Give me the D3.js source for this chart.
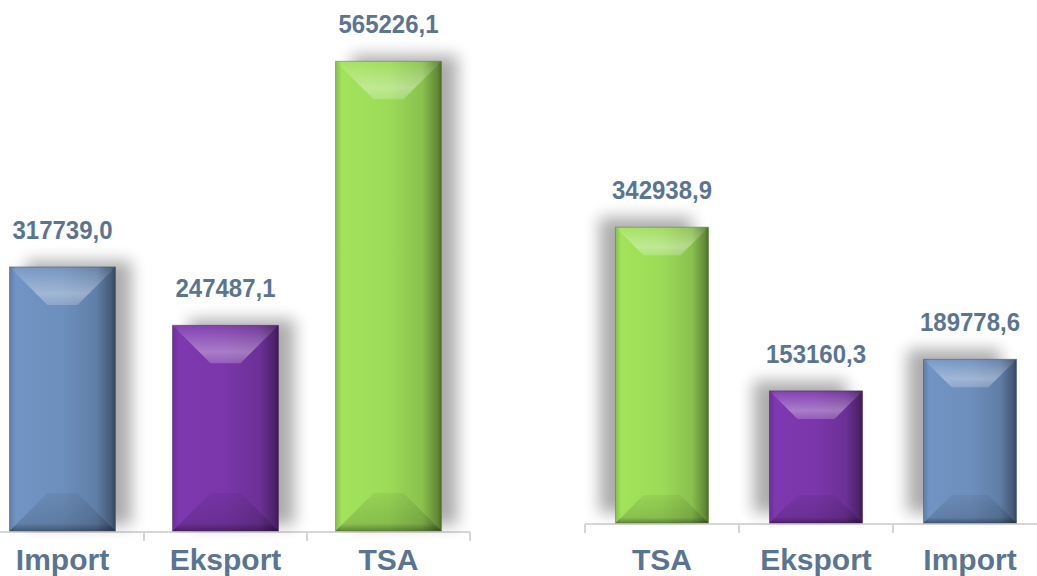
<!DOCTYPE html>
<html lang="en">
<head>
<meta charset="utf8">
<title>Import / Eksport / TSA</title>
<script src="https://cdn.jsdelivr.net/npm/d3@7"></script>
<style>
  html, body { margin: 0; padding: 0; background: #fff; }
  svg { display: block; font-family: Arial, "Liberation Sans", sans-serif; }
</style>
</head>
<body>
<svg id="chart" width="1037" height="576"></svg>
<script>
// data
var leftCats = ['Import', 'Eksport', 'TSA'];
var leftVals = [317739.0, 247487.1, 565226.1];
var rightCats = ['TSA', 'Eksport', 'Import'];
var rightVals = [342938.9, 153160.3, 189778.6];
var barColors = { Import: '#6d8fbd', Eksport: '#7a36aa', TSA: '#9cdb58' };

var textColor = '#5a7591';
var svg = d3.select('#chart');
var defs = svg.append('defs');

// side gradients per colour
Object.keys(barColors).forEach(function(k) {
    var c = d3.color(barColors[k]);
    var g = defs.append('linearGradient').attr('id', 'side-' + k)
        .attr('x1', 0).attr('x2', 1).attr('y1', 0).attr('y2', 0);
    g.append('stop').attr('offset', '0%').attr('stop-color', c.darker(0.4));
    g.append('stop').attr('offset', '6%').attr('stop-color', c.brighter(0.1));
    g.append('stop').attr('offset', '50%').attr('stop-color', c);
    g.append('stop').attr('offset', '82%').attr('stop-color', c.darker(0.35));
    g.append('stop').attr('offset', '96%').attr('stop-color', c.darker(1.3));
    g.append('stop').attr('offset', '100%').attr('stop-color', c.darker(2));
});

var topGrad = defs.append('linearGradient').attr('id', 'bevel-top')
    .attr('x1', 0).attr('x2', 0).attr('y1', 0).attr('y2', 1);
topGrad.append('stop').attr('offset', '0%').attr('stop-color', '#fff').attr('stop-opacity', 0.05);
topGrad.append('stop').attr('offset', '70%').attr('stop-color', '#fff').attr('stop-opacity', 0.35);
topGrad.append('stop').attr('offset', '100%').attr('stop-color', '#fff').attr('stop-opacity', 0.2);

var botGrad = defs.append('linearGradient').attr('id', 'bevel-bot')
    .attr('x1', 0).attr('x2', 0).attr('y1', 0).attr('y2', 1);
botGrad.append('stop').attr('offset', '0%').attr('stop-color', '#000').attr('stop-opacity', 0.05);
botGrad.append('stop').attr('offset', '80%').attr('stop-color', '#000').attr('stop-opacity', 0.14);
botGrad.append('stop').attr('offset', '100%').attr('stop-color', '#000').attr('stop-opacity', 0.4);

function shadowFilter(id, dx, dy) {
    var f = defs.append('filter').attr('id', id)
        .attr('x', '-50%').attr('y', '-20%').attr('width', '200%').attr('height', '140%');
    f.append('feGaussianBlur').attr('in', 'SourceAlpha').attr('stdDeviation', 8);
    f.append('feOffset').attr('dx', dx).attr('dy', dy).attr('result', 'off');
    f.append('feComponentTransfer').append('feFuncA').attr('type', 'linear').attr('slope', 0.33);
}
shadowFilter('shadow-right', 16, -6);
shadowFilter('shadow-left', -16, -10);

function drawPanel(cats, vals, opt) {
    var x = d3.scaleBand().domain(cats).range([opt.x0, opt.x1])
        .paddingInner(opt.pad).paddingOuter(opt.pad / 2);
    var y = d3.scaleLinear().domain([0, opt.ymax]).range([opt.base, opt.top]);
    var step = x.step();
    var g = svg.append('g');

    // axis line + boundary ticks
    var axis = g.append('g').attr('stroke', '#d6d6d6').attr('stroke-width', 2);
    axis.append('line')
        .attr('x1', opt.x0).attr('x2', opt.x1)
        .attr('y1', opt.base + 1).attr('y2', opt.base + 1);
    var bounds = cats.map(function(c) { return x(c) - step * opt.pad / 2; })
        .concat([opt.x1]);
    axis.selectAll('line.tick').data(bounds).enter().append('line')
        .attr('class', 'tick')
        .attr('x1', function(d) { return d; }).attr('x2', function(d) { return d; })
        .attr('y1', opt.base + 1).attr('y2', opt.base + 10);

    var data = cats.map(function(c, i) { return { cat: c, val: vals[i] }; });

    // shadows
    g.selectAll('rect.shadow').data(data).enter().append('rect')
        .attr('class', 'shadow')
        .attr('x', function(d) { return x(d.cat); })
        .attr('y', function(d) { return y(d.val); })
        .attr('width', x.bandwidth())
        .attr('height', function(d) { return opt.base - y(d.val); })
        .attr('filter', 'url(#' + opt.shadow + ')');

    var bars = g.selectAll('g.bar').data(data).enter().append('g').attr('class', 'bar');
    var w = x.bandwidth(), b = opt.bevel;
    bars.append('rect')
        .attr('x', function(d) { return x(d.cat); })
        .attr('y', function(d) { return y(d.val); })
        .attr('width', w)
        .attr('height', function(d) { return opt.base - y(d.val); })
        .attr('fill', function(d) { return 'url(#side-' + d.cat + ')'; });
    bars.append('path')
        .attr('d', function(d) {
            var x0 = x(d.cat), t = y(d.val);
            return 'M' + x0 + ',' + t + 'L' + (x0 + w) + ',' + t +
                'L' + (x0 + w - b) + ',' + (t + b) + 'L' + (x0 + b) + ',' + (t + b) + 'Z';
        })
        .attr('fill', 'url(#bevel-top)');
    bars.append('path')
        .attr('d', function(d) {
            var x0 = x(d.cat), bt = opt.base;
            return 'M' + x0 + ',' + bt + 'L' + (x0 + w) + ',' + bt +
                'L' + (x0 + w - b) + ',' + (bt - b) + 'L' + (x0 + b) + ',' + (bt - b) + 'Z';
        })
        .attr('fill', 'url(#bevel-bot)');
    bars.append('rect')
        .attr('x', function(d) { return x(d.cat); })
        .attr('y', function(d) { return y(d.val); })
        .attr('width', w)
        .attr('height', function(d) { return opt.base - y(d.val); })
        .attr('fill', 'none')
        .attr('stroke', function(d) { return d3.color(barColors[d.cat]).darker(1.6); })
        .attr('stroke-opacity', 0.5)
        .attr('stroke-width', 1);

    // value labels
    var fmt = d3.format('.1f');
    g.selectAll('text.val').data(data).enter().append('text')
        .attr('class', 'val')
        .attr('transform', function(d) {
            return 'translate(' + (x(d.cat) + w / 2) + ',' + (y(d.val) - 28) + ') scale(1,1.1)';
        })
        .attr('text-anchor', 'middle')
        .attr('fill', textColor)
        .attr('font-size', 24)
        .attr('font-weight', 'bold')
        .text(function(d) { return fmt(d.val).replace('.', ','); });

    // category labels
    g.selectAll('text.cat').data(data).enter().append('text')
        .attr('class', 'cat')
        .attr('x', function(d) { return x(d.cat) + w / 2; })
        .attr('y', 570)
        .attr('text-anchor', 'middle')
        .attr('fill', textColor)
        .attr('font-size', 30)
        .attr('font-weight', 'bold')
        .text(function(d) { return d.cat; });
}

drawPanel(leftCats, leftVals, {
    x0: -19, x1: 470, pad: 0.35, base: 531, top: 32.4, ymax: 600000,
    bevel: 38, shadow: 'shadow-right'
});
drawPanel(rightCats, rightVals, {
    x0: 585, x1: 1047, pad: 0.396, base: 523, top: 178, ymax: 400000,
    bevel: 28, shadow: 'shadow-left'
});
</script>
</body>
</html>
